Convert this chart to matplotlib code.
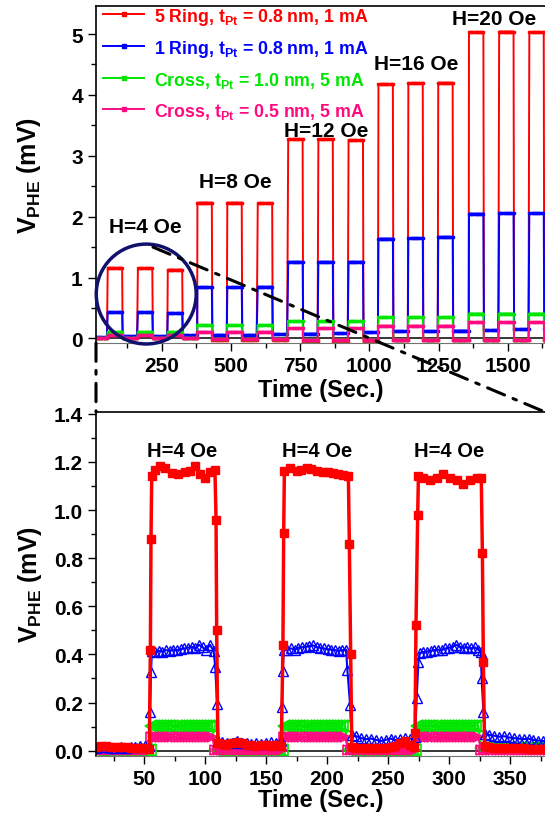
import numpy as np
import matplotlib.pyplot as plt
from matplotlib.patches import Ellipse, ConnectionPatch
from matplotlib.ticker import MultipleLocator, FormatStrFormatter

plt.rcParams['font.family'] = ['Liberation Sans', 'DejaVu Sans']
plt.rcParams['font.weight'] = 'bold'
plt.rcParams['axes.labelweight'] = 'bold'
plt.rcParams['mathtext.fontset'] = 'custom'
plt.rcParams['mathtext.rm'] = 'Liberation Sans:bold'
plt.rcParams['mathtext.it'] = 'Liberation Sans:bold'
plt.rcParams['mathtext.bf'] = 'Liberation Sans:bold'

# ---- overview (top) : one pulse of field every ~108.6 s ----
labels = ['5 Ring, t$_\\mathrm{Pt}$ = 0.8 nm, 1 mA',
          '1 Ring, t$_\\mathrm{Pt}$ = 0.8 nm, 1 mA',
          'Cross, t$_\\mathrm{Pt}$ = 1.0 nm, 5 mA',
          'Cross, t$_\\mathrm{Pt}$ = 0.5 nm, 5 mA']
colors = ['#ff0000', '#0000ff', '#00e600', '#ff0a80']
fields = ['H=4 Oe', 'H=8 Oe', 'H=12 Oe', 'H=16 Oe', 'H=20 Oe']

top_on = [55, 164, 272, 379, 487, 597, 707, 816, 925, 1033, 1141, 1249, 1360, 1469, 1578]
top_len = 54
red_high = [1.16, 1.15, 1.13, 2.23, 2.23, 2.22, 3.27, 3.27, 3.26, 4.18, 4.19, 4.20, 5.03, 5.04, 5.03]
blue_high = [0.43, 0.43, 0.42, 0.84, 0.84, 0.85, 1.26, 1.26, 1.26, 1.64, 1.65, 1.67, 2.05, 2.06, 2.06]
green_high = [0.11, 0.11, 0.11, 0.22, 0.22, 0.22, 0.28, 0.28, 0.28, 0.35, 0.35, 0.35, 0.41, 0.41, 0.41]
pink_high = [0.05, 0.05, 0.05, 0.11, 0.11, 0.11, 0.17, 0.17, 0.17, 0.21, 0.21, 0.21, 0.27, 0.27, 0.27]
# level before each pulse + after the last one
red_low = [0.01, 0.0, 0.0, 0.0, -0.03, -0.03, -0.03, -0.05, -0.05, -0.05, -0.03, -0.03, -0.03, -0.03, -0.03, -0.03]
blue_low = [0.02, 0.04, 0.04, 0.05, 0.06, 0.06, 0.07, 0.08, 0.09, 0.10, 0.12, 0.12, 0.13, 0.14, 0.15, 0.15]
green_low = [0.0, 0.0, 0.0, 0.0, -0.01, -0.01, -0.01, -0.02, -0.02, -0.02, -0.02, -0.02, -0.02, -0.02, -0.02, -0.02]
pink_low = [0.0, 0.0, 0.0, 0.0, -0.01, -0.01, -0.01, -0.02, -0.02, -0.02, -0.02, -0.02, -0.02, -0.02, -0.02, -0.02]

# ---- zoom (bottom) : first three H=4 Oe pulses ----
red_zoom_t = [11, 15, 19, 23, 27, 31, 35, 39, 43, 47, 51, 54.3,
              55.2, 55.7,
              56.3, 59, 63, 67, 72.6, 78, 83.5, 87.7, 91.8, 95.9, 100, 104.1, 108.1,
              109.0, 109.5,
              110.5, 114, 118, 122, 126, 130, 134, 138, 142, 146, 150, 154, 158, 162.5,
              163.8, 164.4,
              165, 169.6, 175, 179, 183.2, 187, 191.4, 196.9, 201, 205.1, 209, 213.3, 217.4,
              218.2, 219.3,
              220.2, 224, 228, 232, 236, 240, 244, 248, 252, 256, 260, 264, 268, 271.3,
              272.0, 272.8, 274.2,
              274.8, 278.9, 284.4, 289.8, 295.3, 300.8, 306.2, 311.7, 317.1, 322.6, 326.3,
              327.2, 328.0,
              329, 333, 337, 341, 345, 349, 353, 357, 361, 365, 369, 373, 377, 380]
red_zoom_v = [0.016, 0.018, 0.02, 0.017, 0.015, 0.016, 0.014, 0.013, 0.012, 0.011, 0.01, 0.008,
              0.42, 0.88,
              1.14, 1.168, 1.182, 1.174, 1.155, 1.15, 1.157, 1.164, 1.185, 1.15, 1.134, 1.16, 1.165,
              0.96, 0.50,
              0.03, 0.028, 0.024, 0.03, 0.036, 0.03, 0.025, 0.022, 0.02, 0.022, 0.024, 0.02, 0.022, 0.02,
              0.44, 0.905,
              1.164, 1.174, 1.164, 1.168, 1.174, 1.17, 1.164, 1.16, 1.158, 1.155, 1.15, 1.146, 1.143,
              0.86, 0.40,
              0.014, 0.012, 0.01, 0.012, 0.01, 0.012, 0.01, 0.012, 0.015, 0.02, 0.03, 0.04, 0.025, 0.015,
              0.074, 0.523, 0.981,
              1.143, 1.133, 1.123, 1.133, 1.15, 1.133, 1.123, 1.109, 1.123, 1.133, 1.133,
              0.82, 0.37,
              0.018, 0.014, 0.012, 0.01, 0.012, 0.01, 0.01, 0.011, 0.01, 0.009, 0.008, 0.008, 0.007, 0.006]

blue_zoom_t = [11, 15, 19, 23, 27, 31, 35, 39, 43, 47, 51, 54,
               54.9, 55.7,
               56.5, 59, 62, 65, 68, 71, 74, 77, 80, 83, 86, 89, 92, 95, 98, 101, 104, 107,
               108.3, 109.8,
               111, 114, 118, 122, 126, 130, 134, 138, 142, 146, 150, 154, 158, 162,
               162.8, 163.6,
               164.6, 167.5, 170.5, 173.5, 176.5, 179.5, 182.5, 185.5, 188.5, 191.5, 194.5,
               197.5, 200.5, 203.5, 206.5, 209.5, 212.5, 215.5,
               216.6, 218.8,
               220, 224, 228, 232, 236, 240, 244, 248, 252, 256, 260, 264, 268, 272,
               273.4, 274.8,
               275.8, 278.8, 281.8, 284.8, 287.8, 290.8, 293.8, 296.8, 299.8, 302.8, 305.8,
               308.8, 311.8, 314.8, 317.8, 320.8, 323.8, 325.8,
               326.6, 328.0,
               329.5, 333, 337, 341, 345, 349, 353, 357, 361, 365, 369, 373, 377, 380]
blue_zoom_v = [0.012, 0.014, 0.015, 0.013, 0.012, 0.014, 0.013, 0.015, 0.016, 0.018, 0.02, 0.02,
               0.16, 0.326,
               0.414, 0.41, 0.415, 0.412, 0.418, 0.415, 0.42, 0.418, 0.422, 0.425, 0.428, 0.432,
               0.425, 0.44, 0.43, 0.418, 0.44, 0.415,
               0.348, 0.194,
               0.04, 0.036, 0.03, 0.034, 0.04, 0.032, 0.03, 0.028, 0.03, 0.026, 0.03, 0.035, 0.032, 0.04,
               0.18, 0.33,
               0.418, 0.42, 0.425, 0.42, 0.428, 0.43, 0.432, 0.435, 0.438, 0.43, 0.428,
               0.425, 0.422, 0.42, 0.418, 0.415, 0.418, 0.42,
               0.336, 0.19,
               0.065, 0.06, 0.052, 0.048, 0.05, 0.045, 0.04, 0.045, 0.05, 0.044, 0.048, 0.052, 0.05, 0.055,
               0.219, 0.369,
               0.405, 0.41, 0.412, 0.415, 0.418, 0.42, 0.418, 0.425, 0.428, 0.432, 0.44,
               0.432, 0.428, 0.43, 0.425, 0.43, 0.42, 0.41,
               0.30, 0.162,
               0.07, 0.065, 0.062, 0.058, 0.06, 0.055, 0.052, 0.05, 0.048, 0.05, 0.045, 0.042, 0.04, 0.04]

zoom_on = [55.8, 164.8, 273.8]
zoom_len = 52.5
green_zoom_high = [0.104, 0.104, 0.104]
green_zoom_low = [0.004, 0.004, 0.004, 0.012]
pink_zoom_high = [0.056, 0.056, 0.056]
pink_zoom_low = [0.002, 0.002, 0.002, 0.004]


def pulse_train(t_on, length, high, low, t0, t1, step):
    ts, vs = [], []
    start = t0
    for i, on in enumerate(t_on):
        for a, b, lev in ((start, on, low[i]), (on, on + length, high[i])):
            seg = np.arange(a, b, step)
            ts.append(seg)
            vs.append(np.full(seg.size, lev))
        start = on + length
    seg = np.arange(start, t1 + step, step)
    ts.append(seg)
    vs.append(np.full(seg.size, low[-1]))
    return np.concatenate(ts), np.concatenate(vs)


fig = plt.figure(figsize=(5.45, 8.2), dpi=100)
ax1 = fig.add_axes([96 / 545, 1 - 344 / 820, 449 / 545, 337.5 / 820])
ax2 = fig.add_axes([96 / 545, 1 - 756.5 / 820, 449 / 545, 343.5 / 820])

# top panel
for high, low, c, lab in zip([red_high, blue_high, green_high, pink_high],
                             [red_low, blue_low, green_low, pink_low], colors, labels):
    t, v = pulse_train(top_on, top_len, high, low, 0, 1650, 4.0)
    ax1.plot(t, v, '-s', color=c, lw=1.4, ms=1.6, label=lab)

ax1.axhline(0, color='black', lw=1.1, zorder=1)
ax1.set_xlim(12.6, 1634.6)
ax1.set_ylim(-0.074, 5.468)
ax1.xaxis.set_major_locator(MultipleLocator(250))
ax1.xaxis.set_minor_locator(MultipleLocator(125))
ax1.yaxis.set_major_locator(MultipleLocator(1))
ax1.yaxis.set_minor_locator(MultipleLocator(0.5))
ax1.set_xlabel('Time (Sec.)', fontsize=17, labelpad=2)
ax1.set_ylabel('V$_\\mathrm{PHE}$ (mV)', fontsize=18, labelpad=20)

leg = ax1.legend(loc='upper left', bbox_to_anchor=(0.012, 1.005), frameon=False,
                 fontsize=12.8, handlelength=2.3, handletextpad=0.55,
                 labelspacing=0.62, borderaxespad=0, borderpad=0.1, markerscale=1.4)
for txt, c in zip(leg.get_texts(), colors):
    txt.set_color(c)

label_x = [190, 515, 843, 1170, 1450]
label_y = [1.84, 2.58, 3.41, 4.51, 5.25]
for s, x, y in zip(fields, label_x, label_y):
    ax1.text(x, y, s, ha='center', va='center', fontsize=15)

ax1.add_patch(Ellipse((194, 0.73), 361, 1.64, fill=False, ec='#12126e', lw=2.5,
                      clip_on=False, zorder=5))

# bottom panel
t, v = pulse_train(zoom_on, zoom_len, green_zoom_high, green_zoom_low, 10, 380, 2.5)
ax2.plot(t, v, '-<', color=colors[2], lw=1.5, ms=8, mfc='none', mew=1.2)
t, v = pulse_train(zoom_on, zoom_len, pink_zoom_high, pink_zoom_low, 10, 380, 2.5)
ax2.plot(t, v, '->', color=colors[3], lw=1.5, ms=7, mfc='none', mew=1.2)
ax2.plot(blue_zoom_t, blue_zoom_v, '-^', color=colors[1], lw=1.5, ms=7, mfc='none', mew=1)
ax2.plot(red_zoom_t, red_zoom_v, '-s', color=colors[0], lw=2.5, ms=6)
ax2.axhline(0, color='black', lw=1.1, zorder=1)

ax2.set_xlim(10.65, 378.5)
ax2.set_ylim(-0.02, 1.4075)
ax2.xaxis.set_major_locator(MultipleLocator(50))
ax2.xaxis.set_minor_locator(MultipleLocator(25))
ax2.yaxis.set_major_locator(MultipleLocator(0.2))
ax2.yaxis.set_minor_locator(MultipleLocator(0.1))
ax2.yaxis.set_major_formatter(FormatStrFormatter('%.1f'))
ax2.set_xlabel('Time (Sec.)', fontsize=17, labelpad=0)
ax2.set_ylabel('V$_\\mathrm{PHE}$ (mV)', fontsize=18, labelpad=7)

for x in [81.5, 192, 300]:
    ax2.text(x, 1.247, 'H=4 Oe', ha='center', va='center', fontsize=14.5)

for ax in (ax1, ax2):
    ax.spines['right'].set_visible(False)
    ax.spines['bottom'].set_color('0.45')
    for side in ('left', 'top'):
        ax.spines[side].set_linewidth(1.2)
    ax.tick_params(which='both', direction='out', width=1, labelsize=15)
    ax.tick_params(which='major', length=6)
    ax.tick_params(which='minor', length=3.5)

# zoom connectors
dash = (0, (6, 3, 1.2, 3))
fig.add_artist(ConnectionPatch(xyA=(0, 0), coordsA='axes fraction', axesA=ax1,
                               xyB=(0, 1), coordsB='axes fraction', axesB=ax2,
                               color='black', lw=2.2, linestyle=dash, zorder=6))
fig.add_artist(ConnectionPatch(xyA=(218.6, 1.50), coordsA='data', axesA=ax1,
                               xyB=(1, 1), coordsB='axes fraction', axesB=ax2,
                               color='black', lw=2.2, linestyle=dash, zorder=6))

fig.savefig('out.png', dpi=100)
